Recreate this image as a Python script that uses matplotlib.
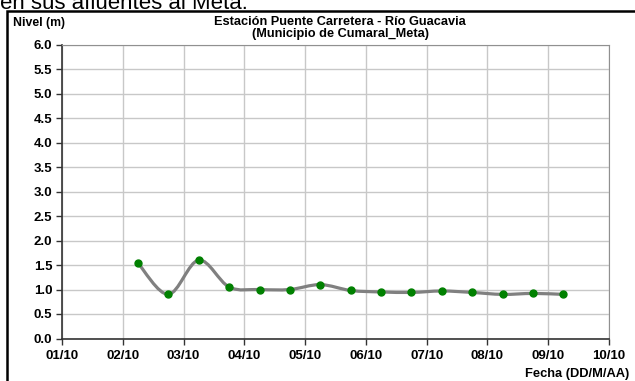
import numpy as np
import matplotlib
matplotlib.use("Agg")
from matplotlib import pyplot as plt
from matplotlib.path import Path
from matplotlib.patches import PathPatch, Rectangle

plt.rcParams['font.family'] = ['Liberation Sans', 'DejaVu Sans']

# month index (1 = 01/10) and water level (m)
fechas = [2.25, 2.75, 3.25, 3.75, 4.25, 4.75, 5.25, 5.75,
          6.25, 6.75, 7.25, 7.75, 8.25, 8.75, 9.25]
nivel = [1.54, 0.90, 1.60, 1.05, 1.00, 1.00, 1.10, 0.98,
         0.95, 0.94, 0.97, 0.94, 0.90, 0.92, 0.90]
xticks_lbl = ['01/10', '02/10', '03/10', '04/10', '05/10',
              '06/10', '07/10', '08/10', '09/10', '10/10']
yticks = [0.0, 0.5, 1.0, 1.5, 2.0, 2.5, 3.0, 3.5, 4.0, 4.5, 5.0, 5.5, 6.0]


def smooth_path(x, y, t=1 / 6.):
    # excel-like smoothed line as bezier segments
    x = np.asarray(x); y = np.asarray(y)
    verts = [(x[0], y[0])]
    codes = [Path.MOVETO]
    n = len(x)
    for i in range(n - 1):
        x0, y0 = (x[i - 1], y[i - 1]) if i > 0 else (x[i], y[i])
        x3, y3 = (x[i + 2], y[i + 2]) if i + 2 < n else (x[i + 1], y[i + 1])
        c1 = (x[i] + (x[i + 1] - x0) * t, y[i] + (y[i + 1] - y0) * t)
        c2 = (x[i + 1] - (x3 - x[i]) * t, y[i + 1] - (y3 - y[i]) * t)
        verts += [c1, c2, (x[i + 1], y[i + 1])]
        codes += [Path.CURVE4] * 3
    return Path(verts, codes)


fig = plt.figure(figsize=(6.35, 3.81), dpi=100)
ax = fig.add_axes([62 / 635, 1 - 338.5 / 381, (609 - 62) / 635, (338.5 - 44.5) / 381])

ax.add_patch(PathPatch(smooth_path(fechas, nivel), facecolor='none',
                       edgecolor='#808080', lw=2.3, zorder=3))
ax.plot(fechas, nivel, 'o', color='#008000', ms=5, zorder=4)

ax.set_xlim(1, 10)
ax.set_ylim(0, 6)
ax.set_xticks(range(1, 11))
ax.set_xticklabels(xticks_lbl)
ax.set_yticks(yticks)
ax.set_yticklabels(['%.1f' % v for v in yticks])
ax.tick_params(labelsize=9.5, length=4, width=1, color='#333333', pad=4)
ax.tick_params(axis='y', pad=3)
for lbl in ax.get_xticklabels() + ax.get_yticklabels():
    lbl.set_fontweight('bold')
ax.grid(True, color='#c8c8c8', lw=1)
ax.set_axisbelow(True)
for s in ['top', 'right']:
    ax.spines[s].set_color('#909090')
for s in ['left', 'bottom']:
    ax.spines[s].set_color('#333333')
    ax.spines[s].set_linewidth(1.2)

fig.text(13 / 635, 1 - 23 / 381, 'Nivel (m)', fontsize=8.8, fontweight='bold', va='center')
fig.text(340 / 635, 1 - 22 / 381, 'Estación Puente Carretera - Río Guacavia',
         fontsize=9.2, fontweight='bold', ha='center', va='center')
fig.text(340 / 635, 1 - 34.5 / 381, '(Municipio de Cumaral_Meta)',
         fontsize=9.2, fontweight='bold', ha='center', va='center')
fig.text(629 / 635, 1 - 374 / 381, 'Fecha (DD/M/AA)', fontsize=9.3,
         fontweight='bold', ha='right', va='center')

# cut-off line of text above the chart box
fig.text(0, 1 - 9 / 381, 'en sus afluentes al Meta.', fontsize=16, va='baseline')
fig.add_artist(Rectangle((7 / 635, -0.1), 1.2, 1.1 - 11 / 381, transform=fig.transFigure,
                         fill=False, edgecolor='black', lw=1.8))

fig.savefig('out.png', dpi=100)
